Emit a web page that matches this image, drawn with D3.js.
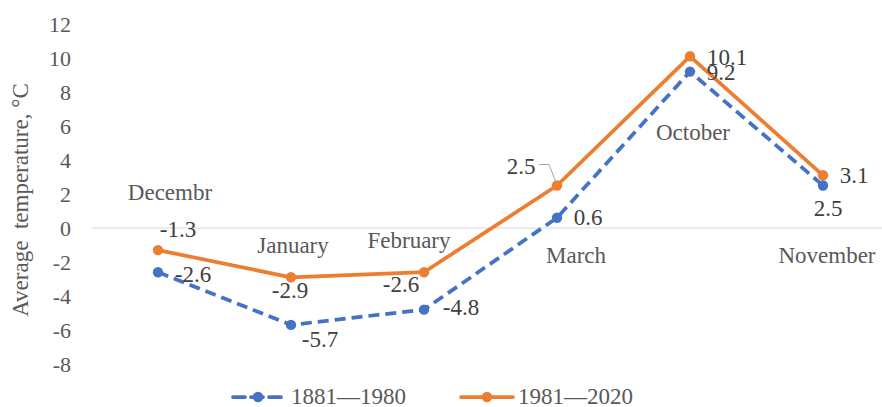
<!DOCTYPE html>
<html><head><meta charset="utf-8">
<script src="https://cdn.jsdelivr.net/npm/d3@7/dist/d3.min.js"></script>
<style>body{margin:0;background:#fff}svg{display:block}</style>
</head><body><svg id="c" width="882" height="407"></svg>
<script>
const categories = ["Decembr","January","February","March","October","November"];
const series1Name = "1881\u20141980";
const series2Name = "1981\u20142020";
const series1 = [-2.6,-5.7,-4.8,0.6,9.2,2.5];
const series2 = [-1.3,-2.9,-2.6,2.5,10.1,3.1];
const yTicks = [-8,-6,-4,-2,0,2,4,6,8,10,12];
const yTitle = "Average\u00a0 temperature, \u00b0C";

const FONT = "\"Liberation Serif\"";
// layout (pixel offsets)
const lab1 = [[35,10],[29,22],[37,5],[31,7],[31,8],[5,30]];
const lab2 = [[20,-13],[-1,21],[-23,20],[-36,-12],[37,9],[31,8]];
const catLab = [[12,200],[2,253],[-15,248],[19,263],[3,140],[4,263]];

const svg = d3.select("#c");
const x = d3.scalePoint().domain(categories).range([158,823]);
const y = d3.scaleLinear().domain([-8,12]).range([364,24]);
const blue = "#4472C4", orange = "#ED7D31";
const fmtTick = d => String(d);
const fmt = d => d.toFixed(1);
function T(sel){ return sel.style("font-family",FONT); }

svg.append("line").attr("x1",92).attr("x2",882).attr("y1",y(0)).attr("y2",y(0))
  .attr("stroke","#d9d9d9").attr("stroke-width",1);

const ax = svg.append("g").attr("transform","translate(71,0)")
  .call(d3.axisLeft(y).tickValues(yTicks).tickSize(0).tickPadding(0).tickFormat(fmtTick));
ax.attr("font-family",null).attr("font-size",null);
ax.select(".domain").remove();
T(ax.selectAll("text")).attr("font-size",22).attr("fill","#595959");

T(svg.append("text")).attr("transform","translate(28,200) rotate(-90)")
  .attr("text-anchor","middle").attr("font-size",23).attr("fill","#595959").text(yTitle);

T(svg.selectAll(".cat").data(categories).join("text"))
  .attr("x",(d,i)=>x(d)+catLab[i][0]).attr("y",(d,i)=>catLab[i][1])
  .attr("text-anchor","middle").attr("font-size",23).attr("fill","#595959").text(d=>d);

const line = d3.line().x((d,i)=>x(categories[i])).y(d=>y(d));

svg.append("path").datum(series2).attr("d",line).attr("fill","none")
  .attr("stroke",orange).attr("stroke-width",3.75).attr("stroke-linejoin","round");
svg.append("path").datum(series1).attr("d",line).attr("fill","none")
  .attr("stroke",blue).attr("stroke-width",3.75).attr("stroke-dasharray","11,6");

svg.selectAll(".m2").data(series2).join("circle")
  .attr("cx",(d,i)=>x(categories[i])).attr("cy",d=>y(d)).attr("r",5.2).attr("fill",orange);
svg.selectAll(".m1").data(series1).join("circle")
  .attr("cx",(d,i)=>x(categories[i])).attr("cy",d=>y(d)).attr("r",5.2).attr("fill",blue);

const mx = x("March"), my = y(series2[3]);
svg.append("path").attr("d",`M${mx-18},${my-21}H${mx-8}L${mx-1},${my-3}`)
  .attr("fill","none").attr("stroke","#a6a6a6").attr("stroke-width",1);

T(svg.selectAll(".l1").data(series1).join("text"))
  .attr("x",(d,i)=>x(categories[i])+lab1[i][0]).attr("y",(d,i)=>y(d)+lab1[i][1])
  .attr("text-anchor","middle").attr("font-size",23).attr("fill","#404040").text(fmt);
T(svg.selectAll(".l2").data(series2).join("text"))
  .attr("x",(d,i)=>x(categories[i])+lab2[i][0]).attr("y",(d,i)=>y(d)+lab2[i][1])
  .attr("text-anchor","middle").attr("font-size",23).attr("fill","#404040").text(fmt);

const lg = svg.append("g");
const ly = 397;
lg.append("line").attr("x1",233).attr("x2",281).attr("y1",ly).attr("y2",ly)
  .attr("stroke",blue).attr("stroke-width",3.75).attr("stroke-dasharray","12,6")
  .attr("stroke-linecap","round");
lg.append("circle").attr("cx",258).attr("cy",ly).attr("r",5.2).attr("fill",blue);
T(lg.append("text")).attr("x",291).attr("y",ly+7).attr("font-size",23).attr("fill","#595959").text(series1Name);
lg.append("line").attr("x1",461).attr("x2",513).attr("y1",ly).attr("y2",ly)
  .attr("stroke",orange).attr("stroke-width",3.75).attr("stroke-linecap","round");
lg.append("circle").attr("cx",487).attr("cy",ly).attr("r",5.2).attr("fill",orange);
T(lg.append("text")).attr("x",518).attr("y",ly+7).attr("font-size",23).attr("fill","#595959").text(series2Name);
</script></body></html>
